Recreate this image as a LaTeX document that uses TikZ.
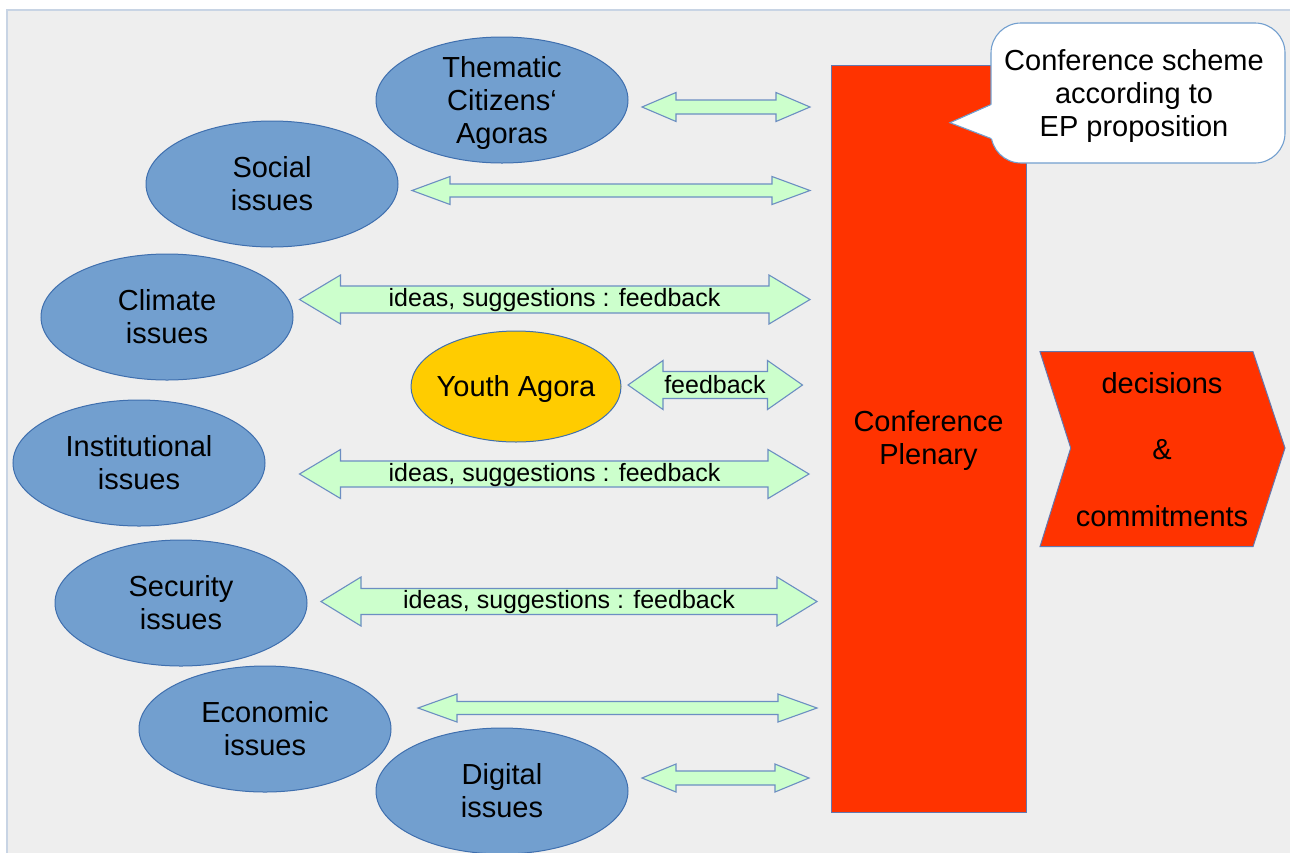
\documentclass[tikz,border=0pt]{standalone}
\usepackage{fontspec}
\setmainfont{Liberation Sans}
\usetikzlibrary{shapes.geometric}

\definecolor{panelgrey}{HTML}{EEEEEE}
\definecolor{panelline}{HTML}{C8D4E4}
\definecolor{issueblue}{HTML}{729FCF}
\definecolor{issueline}{HTML}{3F6FAE}
\definecolor{youthyellow}{HTML}{FFCC00}
\definecolor{arrowgreen}{HTML}{CCFFCC}
\definecolor{arrowline}{HTML}{6C8EC2}
\definecolor{plenaryred}{HTML}{FF3300}
\definecolor{plenaryline}{HTML}{6477AE}

% double-headed block arrow: x-left, x-right, y, head length, head half-height, shaft half-height
\newcommand{\dblarrow}[6]{%
  \draw[blockarrow] (#1,#3) -- ({#1+#4},{#3-#5}) -- ({#1+#4},{#3-#6})
    -- ({#2-#4},{#3-#6}) -- ({#2-#4},{#3-#5}) -- (#2,#3)
    -- ({#2-#4},{#3+#5}) -- ({#2-#4},{#3+#6}) -- ({#1+#4},{#3+#6})
    -- ({#1+#4},{#3+#5}) -- cycle;}

\tikzset{
  plaintext/.style={inner sep=0pt, align=center, font=\fontsize{29}{33}\selectfont},
  bigtext/.style={plaintext, yshift=-2.5pt},
  issue/.style={ellipse, draw=issueline, line width=1pt, fill=issueblue,
    minimum width=252pt, minimum height=126pt, inner sep=0pt},
  youth/.style={issue, fill=youthyellow, minimum width=210pt, minimum height=111pt},
  blockarrow/.style={draw=arrowline, line width=1.1pt, fill=arrowgreen, line join=miter},
  arrowlabel/.style={inner sep=0pt, yshift=-1pt, font=\fontsize{25}{29}\selectfont},
  redshape/.style={draw=plenaryline, line width=1pt, fill=plenaryred},
}

\begin{document}
\begin{tikzpicture}[x=1pt, y=-1pt]
\useasboundingbox (0,0) rectangle (1290,852);
\fill[white] (0,0) rectangle (1290,852);
\draw[panelline, line width=1.2pt, fill=panelgrey] (7,10) rectangle (1300,870);

% block arrows towards the plenary
\dblarrow{642}{810}{107}{34}{14.5}{7}
\dblarrow{412}{810}{190.5}{38}{14}{6.5}
\dblarrow{299.5}{810}{299.5}{41}{24.5}{13.5}
\dblarrow{628}{802.5}{385}{35}{24.5}{13.5}
\dblarrow{299.5}{809}{474}{41}{24.5}{13}
\dblarrow{321}{817}{601.5}{40}{24.5}{13}
\dblarrow{418}{817}{708}{39}{14}{6.5}
\dblarrow{642}{809}{778}{34}{14}{7}

\node[arrowlabel] (climatelbl) at (554.5,299.5) {ideas, suggestions : feedback};
\node[arrowlabel] (youthlbl) at (715,384) {feedback};
\node[arrowlabel] (instlbl) at (554.5,474) {ideas, suggestions : feedback};
\node[arrowlabel] (seclbl) at (569,601.5) {ideas, suggestions : feedback};

% agoras and issue groups
\node[issue] (thematic) at (502,100) {};
\node[bigtext] (thematictext) at (thematic) {Thematic\\Citizens‘\\Agoras};
\node[issue] (social) at (272,184) {};
\node[plaintext] (socialtext) at (social) {Social\\issues};
\node[issue] (climate) at (167,317) {};
\node[plaintext] (climatetext) at (climate) {Climate\\issues};
\node[youth] (youthagora) at (516,386.5) {};
\node[bigtext] (youthtext) at (youthagora) {Youth Agora};
\node[issue] (institutional) at (139,463) {};
\node[plaintext] (institutionaltext) at (institutional) {Institutional\\issues};
\node[issue] (security) at (181,603) {};
\node[plaintext] (securitytext) at (security) {Security\\issues};
\node[issue] (economic) at (265,729) {};
\node[plaintext] (economictext) at (economic) {Economic\\issues};
\node[issue] (digital) at (502,791) {};
\node[plaintext] (digitaltext) at (digital) {Digital\\issues};

% conference plenary
\node[redshape, minimum width=195pt, minimum height=747pt, inner sep=0pt]
  (plenary) at (928.5,438.5) {};
\node[bigtext] (plenarytext) at (plenary) {Conference\\Plenary};

% outcome chevron
\draw[redshape] (1040,351.7) -- (1253,351.7) -- (1285,448) -- (1253,546.7)
  -- (1040,546.7) -- (1070.7,448) -- cycle;
\node[plaintext] (decisions) at (1162,383) {decisions};
\node[plaintext] (amp) at (1162,450) {\&};
\node[plaintext] (commitments) at (1162,516) {commitments};

% callout
\node[draw=issueblue, line width=1.1pt, fill=white, rounded corners=30pt,
  minimum width=294pt, minimum height=140pt, inner sep=0pt]
  (callout) at (1138,93) {};
\node[bigtext] (callouttext) at (1134,93) {Conference scheme\\according to\\EP proposition};
\fill[white] (993,104) -- (950,122.7) -- (993,139) -- cycle;
\coordinate (pointer) at (950,122.7);
\draw[issueblue, line width=1.1pt] (991,104.5) -- (pointer) -- (991,138.5);
\end{tikzpicture}
\end{document}
